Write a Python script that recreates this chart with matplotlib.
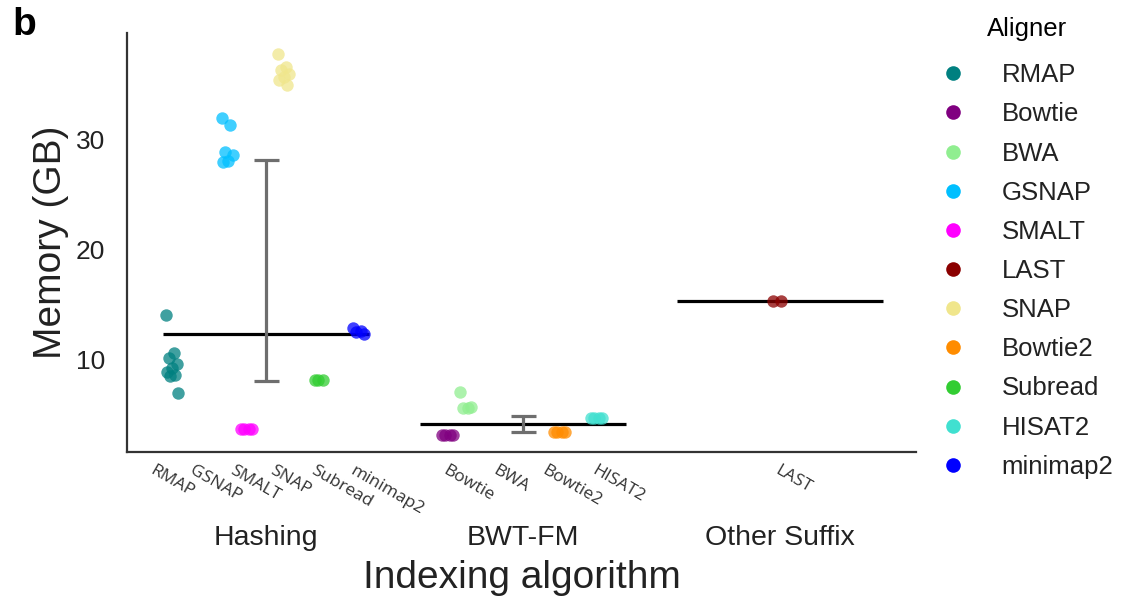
import numpy as np
import matplotlib
matplotlib.use("Agg")
import matplotlib.pyplot as plt
from matplotlib.lines import Line2D

plt.rcParams["font.family"] = ["Liberation Sans", "DejaVu Sans"]

# ---- data -------------------------------------------------------------------
groups = ["Hashing", "BWT-FM", "Other Suffix"]
aligners = ["RMAP", "Bowtie", "BWA", "GSNAP", "SMALT", "LAST", "SNAP",
            "Bowtie2", "Subread", "HISAT2", "minimap2"]
colors = ["#008080", "#800080", "#90EE90", "#00BFFF", "#FF00FF", "#8B0000",
          "#F0E68C", "#FF8C00", "#32CD32", "#40E0D0", "#0000FF"]
aligner_group = {"RMAP": "Hashing", "GSNAP": "Hashing", "SMALT": "Hashing",
                 "SNAP": "Hashing", "Subread": "Hashing", "minimap2": "Hashing",
                 "Bowtie": "BWT-FM", "BWA": "BWT-FM", "Bowtie2": "BWT-FM",
                 "HISAT2": "BWT-FM", "LAST": "Other Suffix"}

mem_rmap = [14.1, 10.6, 10.2, 9.6, 9.3, 8.9, 8.6, 8.5, 7.0]
mem_bowtie = [3.2, 3.2, 3.2, 3.2]
mem_bwa = [7.1, 5.6, 5.6, 5.7]
mem_gsnap = [32.0, 31.3, 28.9, 28.6, 28.1, 28.0]
mem_smalt = [3.7, 3.7, 3.7, 3.7]
mem_last = [15.4, 15.4]
mem_snap = [37.8, 36.6, 36.3, 36.0, 35.7, 35.4, 35.0]
mem_bowtie2 = [3.5, 3.5, 3.5, 3.5]
mem_subread = [8.2, 8.2, 8.2]
mem_hisat2 = [4.7, 4.7, 4.7, 4.7]
mem_minimap2 = [12.9, 12.6, 12.5, 12.4]
memory = {"RMAP": mem_rmap, "Bowtie": mem_bowtie, "BWA": mem_bwa,
          "GSNAP": mem_gsnap, "SMALT": mem_smalt, "LAST": mem_last,
          "SNAP": mem_snap, "Bowtie2": mem_bowtie2, "Subread": mem_subread,
          "HISAT2": mem_hisat2, "minimap2": mem_minimap2}

# group summary line + error bar (lo, hi)
group_center = [12.4, 4.2, 15.4]
group_err_lo = [8.1, 3.45, np.nan]
group_err_hi = [28.2, 4.9, np.nan]

# aligner tick labels under each group
group_ticklabels = [["RMAP", "GSNAP", "SMALT", "SNAP", "Subread", "minimap2"],
                    ["Bowtie", "BWA", "Bowtie2", "HISAT2"],
                    ["LAST"]]

# ---- figure -----------------------------------------------------------------
W, H = 1123, 596
fig = plt.figure(figsize=(W / 100, H / 100), dpi=100)
ax = fig.add_axes([127 / W, 1 - 452 / H, (916 - 127) / W, (452 - 33) / H])

n_hue = len(aligners)
slot = 0.8 / n_hue
for k, (name, col) in enumerate(zip(aligners, colors)):
    gi = groups.index(aligner_group[name])
    vals = np.array(memory[name])
    base = gi - 0.4 + (k + 0.5) * slot
    # small deterministic jitter
    jit = 0.05 * (((np.arange(len(vals)) * 0.618) % 1.0) - 0.5)
    ax.scatter(base + jit, vals, s=80, color=col, alpha=0.75, linewidths=0,
               zorder=3)

for gi in range(len(groups)):
    ax.hlines(group_center[gi], gi - 0.4, gi + 0.4, color="black", lw=2.3,
              zorder=2)
    if not np.isnan(group_err_lo[gi]):
        ax.errorbar(gi, group_center[gi],
                    yerr=[[group_center[gi] - group_err_lo[gi]],
                          [group_err_hi[gi] - group_center[gi]]],
                    fmt="none", ecolor="#6e6e6e", elinewidth=2.3, capsize=9,
                    capthick=2.3, zorder=4)

ax.set_xlim(-0.54, 2.53)
ax.set_ylim(1.64, 39.7)
ax.set_yticks([10, 20, 30])
ax.tick_params(axis="y", length=0, pad=16, labelsize=19, labelcolor="#222222")
ax.set_xticks([])
for s in ["top", "right"]:
    ax.spines[s].set_visible(False)
for s in ["left", "bottom"]:
    ax.spines[s].set_linewidth(1.6)
    ax.spines[s].set_color("#333333")

# aligner names (rotated) and group names
tl_pos = [np.linspace(-0.43, 0.35, 6), np.linspace(-0.29, 0.29, 4), [0.0]]
trans = ax.get_xaxis_transform()
for gi, (labs, pos) in enumerate(zip(group_ticklabels, tl_pos)):
    for lab, p in zip(labs, pos):
        ax.text(gi + p, -0.026, lab, transform=trans, rotation=-30,
                rotation_mode="anchor", ha="left", va="top", fontsize=12.5,
                family=["Open Sans", "DejaVu Sans"], color="#333333")
    ax.text(gi, -0.205, groups[gi], transform=trans, ha="center",
            va="center", fontsize=20.5, color="#222222")

ax.set_xlabel("Indexing algorithm", fontsize=28, color="#222222")
ax.xaxis.set_label_coords(0.5, -0.258)
ax.set_ylabel("Memory (GB)", fontsize=28, color="#222222")
ax.yaxis.set_label_coords(-0.073, 0.5)

handles = [Line2D([], [], marker="o", ls="none", markersize=10.5,
                  markerfacecolor=c, markeredgewidth=0, label=a)
           for a, c in zip(aligners, colors)]
leg = ax.legend(handles=handles, title="Aligner", loc="upper left",
                bbox_to_anchor=(940 / W, 1 - 17 / H),
                bbox_transform=fig.transFigure, frameon=False, borderpad=0,
                borderaxespad=0, fontsize=18.5, title_fontsize=18.5,
                handlelength=1.0, handletextpad=1.4, labelspacing=0.59)
leg._legend_box.sep = 16
for t in leg.get_texts():
    t.set_color("#222222")

fig.text(12 / W, 1 - 7 / H, "b", fontsize=28, fontweight="bold",
         ha="left", va="top")

fig.savefig("out.png", dpi=100)
